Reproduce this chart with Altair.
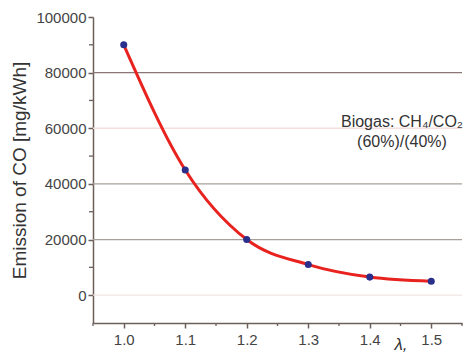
import altair as alt
import pandas as pd

lam = [1.0, 1.1, 1.2, 1.3, 1.4, 1.5]
co = [90000, 45000, 20000, 11000, 6500, 5000]

grid_vals = [0, 20000, 40000, 60000, 80000]
grid_cols = ["#f2e4e4", "#a8a09a", "#a8a09a", "#f4dede", "#8a7676"]

df = pd.DataFrame({"lam": lam, "co": co})
gdf = pd.DataFrame({"v": grid_vals, "c": grid_cols})

xsc = alt.Scale(domain=[0.95, 1.55], nice=False, zero=False)
ysc = alt.Scale(domain=[-10000, 100000], nice=False)

base_x = alt.X("lam:Q", scale=xsc,
               axis=alt.Axis(values=[1.0, 1.1, 1.2, 1.3, 1.4, 1.5], format=".1f", title=None,
                             grid=False, domainColor="#6b5f5a", tickColor="#6b5f5a",
                             labelFontSize=15, labelColor="#444444", labelPadding=4,
                             tickSize=5, domainWidth=1.5, tickWidth=1.5))

grid = alt.Chart(gdf).mark_rule(strokeWidth=1.3).encode(
    y=alt.Y("v:Q", scale=ysc,
            axis=alt.Axis(values=[0, 20000, 40000, 60000, 80000, 100000], format="d",
                          title="Emission of CO [mg/kWh]",
                          grid=False, domainColor="#6b5f5a", tickColor="#6b5f5a",
                          labelFontSize=15, labelColor="#444444", tickSize=5, labelPadding=2,
                          titleFontSize=19, titleFontWeight="normal", titleColor="#333333",
                          titlePadding=6, domainWidth=1.5, tickWidth=1.5)),
    color=alt.Color("c:N", scale=None),
)

minor_y = alt.Chart(pd.DataFrame({"v": [10000, 30000, 50000, 70000, 90000]})).mark_rule(
    color="#6b5f5a", strokeWidth=1.3).encode(
    y=alt.Y("v:Q", scale=ysc), x=alt.value(-4), x2=alt.value(0))

minor_x = alt.Chart(pd.DataFrame({"v": [0.95, 1.05, 1.15, 1.25, 1.35, 1.45, 1.55]})).mark_rule(
    color="#6b5f5a", strokeWidth=1.3).encode(
    x=alt.X("v:Q", scale=xsc), y=alt.value(306), y2=alt.value(309))

line = alt.Chart(df).mark_line(color="#e8231f", strokeWidth=3, interpolate="monotone").encode(
    x=base_x, y=alt.Y("co:Q", scale=ysc))

pts = alt.Chart(df).mark_circle(color="#2b2f8c", size=50, opacity=1).encode(
    x=alt.X("lam:Q", scale=xsc), y=alt.Y("co:Q", scale=ysc))

ann = alt.Chart(pd.DataFrame({"t": ["Biogas: CH\u2084/CO\u2082", "(60%)/(40%)"], "yy": [105, 125]})).mark_text(
    fontSize=16, color="#333333", align="center", baseline="middle").encode(
    x=alt.value(309), y=alt.Y("yy:Q", scale=None), text="t:N")

lam_lbl = alt.Chart(pd.DataFrame({"t": ["\u03bb,"]})).mark_text(
    fontSize=17, fontStyle="italic", color="#333333", align="center", baseline="middle").encode(
    x=alt.value(308), y=alt.value(328), text="t:N")

chart = alt.layer(grid, minor_y, minor_x, line, pts, ann, lam_lbl).properties(
    width=369, height=306,
    autosize=alt.AutoSizeParams(type="none"),
    padding={"left": 93, "top": 17, "right": 8, "bottom": 33},
).configure_view(stroke=None).configure_axis(labelFont="Liberation Sans", titleFont="Liberation Sans"
).configure_text(font="Liberation Sans")

chart.save("out.html", embed_options={"renderer": "svg", "actions": False})
